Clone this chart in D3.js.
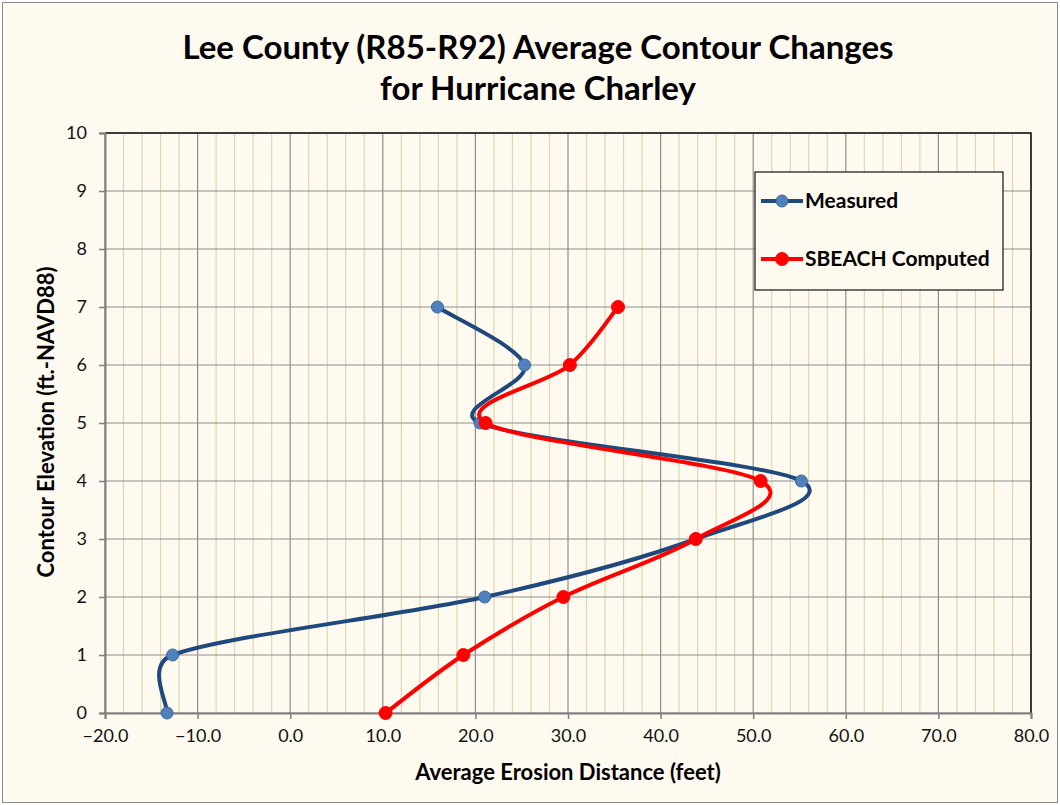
<!DOCTYPE html>
<html lang="en">
<head>
  <meta charset="UTF-8">
  <title>Lee County Average Contour Changes</title>
  <script src="https://d3js.org/d3.v7.min.js"></script>
  <style>
    body { margin: 0; background: #fff; }
    svg { display: block; font-family: Lato, "Open Sans", sans-serif; }
  </style>
</head>
<body>
<svg id="chart" width="1060" height="805"></svg>
<script>
// Contour elevations (ft NAVD88)
const elevations = [0, 1, 2, 3, 4, 5, 6, 7];
// Average erosion distance (feet)
const measured = [-13.3, -12.7, 21.0, 43.8, 55.2, 20.5, 25.3, 15.9];
const sbeach = [10.3, 18.7, 29.5, 43.8, 50.8, 21.1, 30.2, 35.4];

const xTicks = [-20, -10, 0, 10, 20, 30, 40, 50, 60, 70, 80];
const yTicks = [0, 1, 2, 3, 4, 5, 6, 7, 8, 9, 10];

const svg = d3.select("#chart");
const width = 1060, height = 805;
const margin = { top: 133, right: 29, bottom: 92, left: 105 };

// chart background + outer border
svg.append("rect")
  .attr("x", 2.5).attr("y", 2.5)
  .attr("width", width - 5).attr("height", height - 5)
  .attr("fill", "#fffaef")
  .attr("stroke", "#8c8c8c")
  .attr("stroke-width", 1);

const x = d3.scaleLinear().domain([-20, 80]).range([margin.left, width - margin.right]);
const y = d3.scaleLinear().domain([0, 10]).range([height - margin.bottom, margin.top]);

// minor vertical grid every 2 ft
svg.append("g")
  .selectAll("line")
  .data(d3.range(-20, 81, 2).filter(v => v % 10 !== 0))
  .join("line")
  .attr("x1", d => x(d)).attr("x2", d => x(d))
  .attr("y1", y(0)).attr("y2", y(10))
  .attr("stroke", "#ddd6b4")
  .attr("stroke-width", 1.2);

// major grid
svg.append("g")
  .selectAll("line")
  .data(xTicks)
  .join("line")
  .attr("x1", d => x(d)).attr("x2", d => x(d))
  .attr("y1", y(0)).attr("y2", y(10))
  .attr("stroke", "#8e8e8e")
  .attr("stroke-width", 1.2);

svg.append("g")
  .selectAll("line")
  .data(yTicks)
  .join("line")
  .attr("x1", x(-20)).attr("x2", x(80))
  .attr("y1", d => y(d)).attr("y2", d => y(d))
  .attr("stroke", "#8e8e8e")
  .attr("stroke-width", 1.2);

// top / right plot border
svg.append("path")
  .attr("d", `M${x(-20)},${y(10)}H${x(80)}V${y(0)}`)
  .attr("fill", "none")
  .attr("stroke", "#111")
  .attr("stroke-width", 1.5);

// axes
const xAxis = svg.append("g")
  .attr("transform", `translate(0,${y(0)})`)
  .call(d3.axisBottom(x).tickValues(xTicks).tickFormat(d3.format(".1f")).tickSize(6).tickPadding(10));
const yAxis = svg.append("g")
  .attr("transform", `translate(${x(-20)},0)`)
  .call(d3.axisLeft(y).tickValues(yTicks).tickSize(6).tickPadding(12));

[xAxis, yAxis].forEach(g => {
  g.select(".domain").attr("stroke", "#7f7f7f").attr("stroke-width", 2);
  g.selectAll(".tick line").attr("stroke", "#7f7f7f").attr("stroke-width", 1.5);
  g.selectAll("text").attr("font-size", 18).attr("fill", "#111")
    .attr("font-family", "Lato, 'Open Sans', sans-serif");
});

// titles
svg.append("text")
  .attr("x", 538).attr("y", 59)
  .attr("text-anchor", "middle")
  .attr("font-size", 33).attr("font-weight", "bold")
  .text("Lee County (R85-R92) Average Contour Changes");
svg.append("text")
  .attr("x", 538).attr("y", 100)
  .attr("text-anchor", "middle")
  .attr("font-size", 33).attr("font-weight", "bold")
  .text("for Hurricane Charley");

svg.append("text")
  .attr("x", 568).attr("y", 780)
  .attr("text-anchor", "middle")
  .attr("font-size", 22).attr("font-weight", "bold")
  .text("Average Erosion Distance (feet)");

svg.append("text")
  .attr("transform", "translate(54,422) rotate(-90)")
  .attr("text-anchor", "middle")
  .attr("font-size", 22).attr("font-weight", "bold")
  .text("Contour Elevation (ft.-NAVD88)");

// series
const series = [
  { name: "Measured", values: measured, color: "#1f497d", fill: "#4f81bd", r: 6 },
  { name: "SBEACH Computed", values: sbeach, color: "#ff0000", fill: "#ff0000", r: 6.5 }
];

// spreadsheet-style smoothed line: catmull-rom arms (1/6), each arm capped
// at half the length of the segment it sits in
function smoothPath(pts) {
  const p = d3.path();
  const P = pts.map(d => [x(d.v), y(d.e)]);
  p.moveTo(P[0][0], P[0][1]);
  for (let i = 0; i < P.length - 1; i++) {
    const p0 = P[Math.max(i - 1, 0)], p1 = P[i], p2 = P[i + 1], p3 = P[Math.min(i + 2, P.length - 1)];
    const seg = Math.hypot(p2[0] - p1[0], p2[1] - p1[1]);
    const arm = (a, b) => {
      let tx = (b[0] - a[0]) / 6, ty = (b[1] - a[1]) / 6;
      const len = Math.hypot(tx, ty);
      if (len > seg / 2) { tx *= seg / 2 / len; ty *= seg / 2 / len; }
      return [tx, ty];
    };
    const t1 = arm(p0, p2), t2 = arm(p1, p3);
    p.bezierCurveTo(p1[0] + t1[0], p1[1] + t1[1], p2[0] - t2[0], p2[1] - t2[1], p2[0], p2[1]);
  }
  return p.toString();
}

series.forEach(s => {
  const pts = elevations.map((e, i) => ({ e, v: s.values[i] }));
  svg.append("path")
    .attr("fill", "none")
    .attr("stroke", s.color)
    .attr("stroke-width", 4)
    .attr("d", smoothPath(pts));
  svg.append("g")
    .selectAll("circle")
    .data(pts)
    .join("circle")
    .attr("cx", d => x(d.v))
    .attr("cy", d => y(d.e))
    .attr("r", s.r)
    .attr("fill", s.fill)
    .attr("stroke", s.name === "Measured" ? "#3a679c" : s.fill)
    .attr("stroke-width", 1);
});

// legend
const legend = svg.append("g").attr("transform", "translate(755,172)");
legend.append("rect")
  .attr("width", 248).attr("height", 118)
  .attr("fill", "#fffaef")
  .attr("stroke", "#111")
  .attr("stroke-width", 1.2);

series.forEach((s, i) => {
  const ly = 29 + i * 58;
  legend.append("line")
    .attr("x1", 6).attr("x2", 48)
    .attr("y1", ly).attr("y2", ly)
    .attr("stroke", s.color).attr("stroke-width", 4);
  legend.append("circle")
    .attr("cx", 27).attr("cy", ly).attr("r", s.r)
    .attr("fill", s.fill)
    .attr("stroke", s.name === "Measured" ? "#3a679c" : s.fill);
  legend.append("text")
    .attr("x", 50).attr("y", ly + 7)
    .attr("font-size", 21).attr("font-weight", "bold")
    .text(s.name);
});
</script>
</body>
</html>
